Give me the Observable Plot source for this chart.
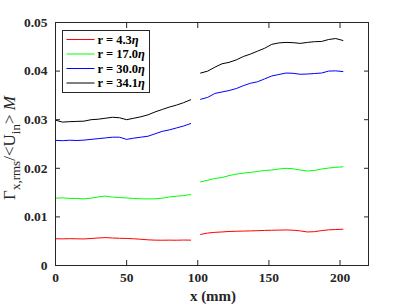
<!DOCTYPE html>
<html>
<head>
<meta charset="utf-8">
<script src="https://cdn.jsdelivr.net/npm/d3@7"></script>
<script src="https://cdn.jsdelivr.net/npm/@observablehq/plot@0.6"></script>
<style>
  html, body { margin: 0; padding: 0; background: #fff; }
  #chart { position: relative; width: 407px; height: 305px; }
</style>
</head>
<body>
<div id="chart"></div>
<script>
// ---- data ----
const seriesNames = ["r = 4.3η", "r = 17.0η", "r = 30.0η", "r = 34.1η"];
const seriesLabels = [["r = 4.3", "η"], ["r = 17.0", "η"], ["r = 30.0", "η"], ["r = 34.1", "η"]];
const seriesColors = ["#ff0000", "#00ff00", "#0000ff", "#000000"];

const xSeg1 = [0, 5, 10, 15, 20, 25, 30, 35, 40, 45, 50, 55, 60, 65, 70, 75, 80, 85, 90, 95];
const xSeg2 = [102, 107, 112, 117, 122, 127, 132, 137, 142, 147, 152, 157, 162, 167, 172, 177, 182, 187, 192, 197, 202];

const r43_seg1 = [0.00550, 0.00548, 0.00552, 0.00549, 0.00546, 0.00556, 0.00566, 0.00574, 0.00566, 0.00560, 0.00556, 0.00550, 0.00540, 0.00528, 0.00522, 0.00520, 0.00522, 0.00520, 0.00524, 0.00522];
const r43_seg2 = [0.00640, 0.00668, 0.00682, 0.00690, 0.00700, 0.00705, 0.00708, 0.00712, 0.00716, 0.00722, 0.00725, 0.00728, 0.00732, 0.00726, 0.00712, 0.00690, 0.00696, 0.00718, 0.00734, 0.00740, 0.00746];

const r170_seg1 = [0.01385, 0.01392, 0.01380, 0.01378, 0.01372, 0.01385, 0.01410, 0.01428, 0.01408, 0.01398, 0.01390, 0.01378, 0.01372, 0.01370, 0.01372, 0.01385, 0.01410, 0.01425, 0.01438, 0.01460];
const r170_seg2 = [0.01720, 0.01755, 0.01790, 0.01810, 0.01850, 0.01880, 0.01900, 0.01915, 0.01935, 0.01955, 0.01965, 0.01985, 0.02000, 0.01990, 0.01965, 0.01945, 0.01955, 0.01985, 0.02005, 0.02020, 0.02030];

const r300_seg1 = [0.02575, 0.02568, 0.02578, 0.02572, 0.02580, 0.02595, 0.02610, 0.02625, 0.02640, 0.02640, 0.02595, 0.02620, 0.02640, 0.02660, 0.02710, 0.02760, 0.02790, 0.02830, 0.02870, 0.02920];
const r300_seg2 = [0.03420, 0.03460, 0.03540, 0.03570, 0.03600, 0.03640, 0.03700, 0.03750, 0.03780, 0.03840, 0.03900, 0.03930, 0.03960, 0.03955, 0.03935, 0.03940, 0.03950, 0.03960, 0.04000, 0.04005, 0.03990];

const r341_seg1 = [0.02990, 0.02950, 0.02960, 0.02965, 0.02970, 0.03000, 0.03010, 0.03030, 0.03050, 0.03040, 0.03000, 0.03030, 0.03060, 0.03100, 0.03160, 0.03210, 0.03260, 0.03300, 0.03350, 0.03410];
const r341_seg2 = [0.03960, 0.04000, 0.04080, 0.04150, 0.04180, 0.04230, 0.04300, 0.04350, 0.04410, 0.04470, 0.04550, 0.04580, 0.04590, 0.04585, 0.04570, 0.04590, 0.04605, 0.04610, 0.04650, 0.04670, 0.04630];

const xTicks = [0, 50, 100, 150, 200];
const yTicks = [0, 0.01, 0.02, 0.03, 0.04, 0.05];
const xLabel = "x (mm)";

// ---- build table ----
const segs = [
  [r43_seg1, r43_seg2],
  [r170_seg1, r170_seg2],
  [r300_seg1, r300_seg2],
  [r341_seg1, r341_seg2]
];
const rows = [];
segs.forEach((pair, si) => {
  pair.forEach((vals, k) => {
    const xs = k === 0 ? xSeg1 : xSeg2;
    vals.forEach((v, i) => rows.push({series: seriesNames[si], key: si + "-" + k, x: xs[i], y: v}));
  });
});

const FONT = "Liberation Serif, Times New Roman, serif";
const fmtY = d => d === 0 ? "0" : d.toFixed(2);

const plot = Plot.plot({
  width: 407,
  height: 305,
  marginLeft: 55,
  marginRight: 39,
  marginTop: 22,
  marginBottom: 40,
  style: {fontFamily: FONT, fontSize: "13.5px", fontWeight: "bold", background: "#fff", overflow: "visible"},
  x: {domain: [0, 220]},
  y: {domain: [0, 0.05]},
  color: {domain: seriesNames, range: seriesColors},
  marks: [
    Plot.line(rows, {x: "x", y: "y", z: "key", stroke: "series", strokeWidth: 1}),
    Plot.frame({stroke: "#262626", strokeWidth: 1}),
    Plot.axisX({anchor: "bottom", ticks: xTicks, tickSize: -5, tickPadding: 12, tickFormat: d => String(d),
      fontSize: 13.5, fontWeight: "bold", fill: "#262626", stroke: "#262626", label: null}),
    Plot.axisX({anchor: "top", ticks: xTicks, tickSize: -5, tickFormat: () => "", stroke: "#262626", label: null}),
    Plot.axisY({anchor: "left", ticks: yTicks, tickSize: -5, tickPadding: 13, tickFormat: fmtY,
      fontSize: 13.5, fontWeight: "bold", fill: "#262626", stroke: "#262626", label: null}),
    Plot.axisY({anchor: "right", ticks: yTicks, tickSize: -5, tickFormat: () => "", stroke: "#262626", label: null})
  ]
});
document.getElementById("chart").appendChild(plot);

const svg = d3.select(plot);

// x label
svg.append("text")
  .attr("x", 213).attr("y", 301)
  .attr("text-anchor", "middle")
  .attr("font-family", FONT).attr("font-size", 15).attr("font-weight", "bold")
  .attr("fill", "#262626")
  .text(xLabel);

// y label with subscripts
const yl = svg.append("text")
  .attr("transform", "translate(15,148) rotate(-90)")
  .attr("text-anchor", "middle")
  .attr("font-family", FONT).attr("font-size", 17).attr("font-weight", "normal")
  .attr("fill", "#262626");
yl.append("tspan").text("Γ");
yl.append("tspan").attr("font-size", 13).attr("dy", 5).text("x,rms");
yl.append("tspan").attr("dy", -5).text("/<U");
yl.append("tspan").attr("font-size", 13).attr("dy", 5).text("in");
yl.append("tspan").attr("dy", -5).text("> ");
yl.append("tspan").attr("font-style", "italic").text("M");

// legend
const lg = svg.append("g").attr("transform", "translate(62.5,30.5)");
lg.append("rect").attr("width", 87).attr("height", 62).attr("fill", "#fff").attr("stroke", "#262626").attr("stroke-width", 1);
seriesLabels.forEach((lab, i) => {
  const yy = 9 + i * 14.5;
  lg.append("line").attr("x1", 4).attr("x2", 32).attr("y1", yy).attr("y2", yy)
    .attr("stroke", seriesColors[i]).attr("stroke-width", 1);
  const t = lg.append("text").attr("x", 35).attr("y", yy).attr("dy", "0.35em")
    .attr("text-anchor", "start")
    .attr("font-family", FONT).attr("font-size", 12.5).attr("font-weight", "bold").attr("fill", "#000");
  t.append("tspan").text(lab[0]);
  t.append("tspan").attr("font-style", "italic").text(lab[1]);
});
</script>
</body>
</html>
